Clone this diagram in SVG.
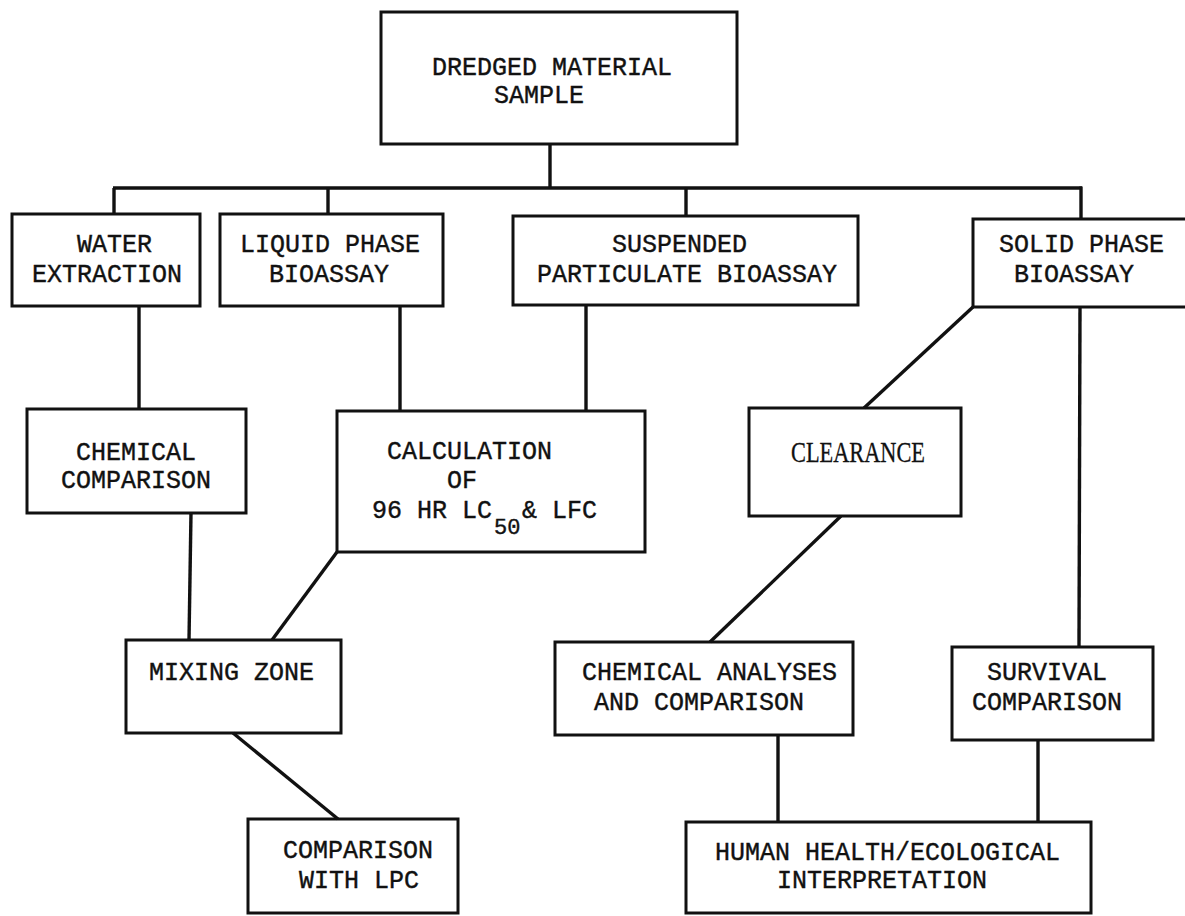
<svg xmlns="http://www.w3.org/2000/svg" width="1185" height="916" viewBox="0 0 1185 916">
<style>
  .box { fill: none; stroke: #111; stroke-width: 3; stroke-linejoin: miter; }
  .conn { fill: none; stroke: #111; stroke-width: 3.4; stroke-linecap: butt; }
  .t { font-family: "Liberation Mono", "Courier New", monospace; font-size: 25px; fill: #111; stroke: #111; stroke-width: 0.4; }
  .sub { font-family: "Liberation Mono", "Courier New", monospace; font-size: 22px; fill: #111; stroke: #111; stroke-width: 0.4; }
  .serif { font-family: "Liberation Serif", "Times New Roman", serif; font-size: 29px; fill: #111; stroke: #111; stroke-width: 0.3; }
</style>
<rect x="0" y="0" width="1185" height="916" fill="#ffffff"/>

<g id="connectors">
  <line class="conn" x1="550" y1="144" x2="550" y2="188"/>
  <line class="conn" x1="113" y1="188" x2="1082" y2="188"/>
  <line class="conn" x1="114" y1="188" x2="114" y2="214"/>
  <line class="conn" x1="328" y1="188" x2="328" y2="214"/>
  <line class="conn" x1="686" y1="188" x2="686" y2="216"/>
  <line class="conn" x1="1081" y1="186.5" x2="1081" y2="219"/>
  <line class="conn" x1="139" y1="306" x2="139" y2="409"/>
  <line class="conn" x1="400" y1="306" x2="400" y2="411"/>
  <line class="conn" x1="586" y1="305" x2="586" y2="411"/>
  <line class="conn" x1="191" y1="513" x2="189" y2="640"/>
  <line class="conn" x1="337" y1="552" x2="272" y2="640"/>
  <line class="conn" x1="233" y1="733" x2="338" y2="819"/>
  <line class="conn" x1="973" y1="307" x2="864" y2="408"/>
  <line class="conn" x1="841" y1="516" x2="710" y2="642"/>
  <line class="conn" x1="1080" y1="307" x2="1079" y2="647"/>
  <line class="conn" x1="778" y1="735" x2="778" y2="822"/>
  <line class="conn" x1="1038" y1="740" x2="1038" y2="822"/>
</g>

<g id="node-dredged">
  <rect class="box" x="381" y="12" width="356" height="132"/>
  <text class="t" x="432" y="75">DREDGED MATERIAL</text>
  <text class="t" x="494" y="103">SAMPLE</text>
</g>

<g id="node-water">
  <rect class="box" x="12" y="214" width="188" height="92"/>
  <text class="t" x="77" y="252">WATER</text>
  <text class="t" x="32" y="282">EXTRACTION</text>
</g>

<g id="node-liquid">
  <rect class="box" x="220" y="214" width="223" height="92"/>
  <text class="t" x="240" y="252">LIQUID PHASE</text>
  <text class="t" x="269" y="282">BIOASSAY</text>
</g>

<g id="node-suspended">
  <rect class="box" x="513" y="216" width="345" height="89"/>
  <text class="t" x="612" y="252">SUSPENDED</text>
  <text class="t" x="537" y="282">PARTICULATE BIOASSAY</text>
</g>

<g id="node-solid">
  <rect class="box" x="973" y="219" width="230" height="88"/>
  <text class="t" x="999" y="252">SOLID PHASE</text>
  <text class="t" x="1014" y="282">BIOASSAY</text>
</g>

<g id="node-chemcomp">
  <rect class="box" x="27" y="409" width="219" height="104"/>
  <text class="t" x="76" y="460">CHEMICAL</text>
  <text class="t" x="61" y="488">COMPARISON</text>
</g>

<g id="node-calc">
  <rect class="box" x="337" y="411" width="308" height="141"/>
  <text class="t" x="387" y="459">CALCULATION</text>
  <text class="t" x="447" y="488">OF</text>
  <text class="t" x="372" y="518">96 HR LC</text>
  <text class="sub" x="494" y="534">50</text>
  <text class="t" x="522" y="518">&amp; LFC</text>
</g>

<g id="node-clearance">
  <rect class="box" x="749" y="408" width="212" height="108"/>
  <text class="serif" x="791" y="462" textLength="134" lengthAdjust="spacingAndGlyphs">CLEARANCE</text>
</g>

<g id="node-mixing">
  <rect class="box" x="126" y="640" width="215" height="93"/>
  <text class="t" x="149" y="680">MIXING ZONE</text>
</g>

<g id="node-chemanalyses">
  <rect class="box" x="555" y="642" width="298" height="93"/>
  <text class="t" x="582" y="680">CHEMICAL ANALYSES</text>
  <text class="t" x="594" y="710">AND COMPARISON</text>
</g>

<g id="node-survival">
  <rect class="box" x="952" y="647" width="201" height="93"/>
  <text class="t" x="987" y="680">SURVIVAL</text>
  <text class="t" x="972" y="710">COMPARISON</text>
</g>

<g id="node-comparisonlpc">
  <rect class="box" x="248" y="819" width="210" height="94"/>
  <text class="t" x="283" y="858">COMPARISON</text>
  <text class="t" x="299" y="888">WITH LPC</text>
</g>

<g id="node-human">
  <rect class="box" x="686" y="822" width="405" height="91"/>
  <text class="t" x="715" y="860">HUMAN HEALTH/ECOLOGICAL</text>
  <text class="t" x="777" y="888">INTERPRETATION</text>
</g>
</svg>
